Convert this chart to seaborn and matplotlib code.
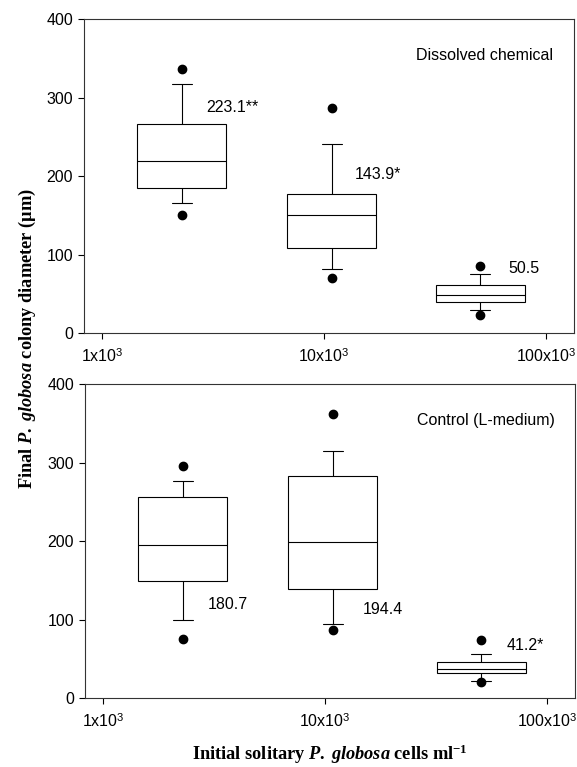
import numpy as np
import pandas as pd
import matplotlib
matplotlib.use("Agg")
import matplotlib.pyplot as plt
import seaborn as sns

# initial cell densities (cells/ml), one box per density
cells = [2280, 10800, 50500]

# top panel: dissolved chemical (box summary)
top_low_out = [151.0, 69.8, 22.8]
top_whisk_lo = [165.8, 82.0, 30.0]
top_q1 = [185.4, 108.7, 39.4]
top_med = [219.7, 150.2, 49.0]
top_q3 = [265.8, 177.3, 60.9]
top_whisk_hi = [317.5, 240.8, 75.7]
top_high_out = [337.0, 287.4, 85.8]
top_means = ["223.1**", "143.9*", "50.5"]

# bottom panel: control (L-medium)
bot_low_out = [76.0, 87.0, 21.3]
bot_whisk_lo = [100.2, 94.3, 22.6]
bot_q1 = [149.5, 138.9, 31.8]
bot_med = [195.8, 199.6, 36.9]
bot_q3 = [256.9, 283.2, 46.7]
bot_whisk_hi = [276.9, 315.5, 56.5]
bot_high_out = [296.4, 361.8, 74.3]
bot_means = ["180.7", "194.4", "41.2*"]

xtick_vals = [1e3, 1e4, 1e5]
xtick_labels = [r"1x10$^{\mathsf{3}}$", r"10x10$^{\mathsf{3}}$", r"100x10$^{\mathsf{3}}$"]


def make_frame(lo_out, w_lo, q1, med, q3, w_hi, hi_out):
    # nine values per box so that quartiles, 5/95 whiskers and outliers
    # land on the values
    rows = []
    for i, c in enumerate(cells):
        vals = [lo_out[i], w_lo[i], q1[i], med[i], med[i], med[i], q3[i], w_hi[i], hi_out[i]]
        for v in vals:
            rows.append({"cells": c, "diam": v})
    return pd.DataFrame(rows)


top_df = make_frame(top_low_out, top_whisk_lo, top_q1, top_med, top_q3, top_whisk_hi, top_high_out)
bot_df = make_frame(bot_low_out, bot_whisk_lo, bot_q1, bot_med, bot_q3, bot_whisk_hi, bot_high_out)

sns.set_style("ticks")
plt.rcParams["font.family"] = ["Liberation Sans", "DejaVu Sans"]
plt.rcParams["text.color"] = "black"
plt.rcParams["xtick.labelcolor"] = "black"
plt.rcParams["ytick.labelcolor"] = "black"
plt.rcParams["mathtext.fontset"] = "custom"
plt.rcParams["mathtext.rm"] = "Liberation Serif:bold"
plt.rcParams["mathtext.it"] = "Liberation Serif:italic:bold"
plt.rcParams["mathtext.bf"] = "Liberation Serif:bold"
plt.rcParams["mathtext.sf"] = "Liberation Sans"

fig = plt.figure(figsize=(5.77, 7.67), dpi=100)
ax_top = fig.add_axes([0.1456, 0.5654, 0.8492, 0.4098])
ax_bot = fig.add_axes([0.1473, 0.0896, 0.8492, 0.4094])

flier = dict(marker="o", markerfacecolor="black", markeredgecolor="black", markersize=6)

for ax, df in [(ax_top, top_df), (ax_bot, bot_df)]:
    sns.boxplot(data=df, x="cells", y="diam", native_scale=True, log_scale=(True, False),
                whis=(5, 95), width=0.6, color="white", linecolor="black", linewidth=0.8,
                flierprops=flier, capwidths=[0.09, 0.09, 0.09], ax=ax)
    ax.set_xlim(828, 133500)
    ax.set_ylim(0, 400)
    ax.set_xticks(xtick_vals)
    ax.set_xticklabels(xtick_labels)
    ax.xaxis.set_minor_locator(matplotlib.ticker.NullLocator())
    ax.set_yticks([0, 100, 200, 300, 400])
    ax.set_xlabel("")
    ax.set_ylabel("")
    ax.tick_params(axis="both", labelsize=11.5, length=4, width=0.8, direction="out", color="black")
    ax.tick_params(axis="x", pad=6)
    ax.tick_params(axis="y", pad=4)
    for sp in ax.spines.values():
        sp.set_visible(True)
        sp.set_linewidth(0.8)
        sp.set_color("#333333")

fs = 11.5
ax_top.text(25900, 354, "Dissolved chemical", fontsize=fs, va="center", ha="left")
ax_top.text(2945, 288, top_means[0], fontsize=fs, va="center", ha="left")
ax_top.text(13800, 202, top_means[1], fontsize=fs, va="center", ha="left")
ax_top.text(67400, 82.5, top_means[2], fontsize=fs, va="center", ha="left")

ax_bot.text(25900, 354, "Control (L-medium)", fontsize=fs, va="center", ha="left")
ax_bot.text(2968, 119.7, bot_means[0], fontsize=fs, va="center", ha="left")
ax_bot.text(14700, 112.5, bot_means[1], fontsize=fs, va="center", ha="left")
ax_bot.text(65600, 67.5, bot_means[2], fontsize=fs, va="center", ha="left")

fig.text(0.047, 0.559, r"Final $P.\;globosa$ colony diameter (µm)", rotation=90,
         ha="center", va="center", fontsize=13.2, fontweight="bold", family="Liberation Serif")
fig.text(0.572, 0.017, r"Initial solitary $P.\;globosa$ cells ml$^{-1}$",
         ha="center", va="center", fontsize=13.2, fontweight="bold", family="Liberation Serif")

fig.savefig("out.png", dpi=100)
